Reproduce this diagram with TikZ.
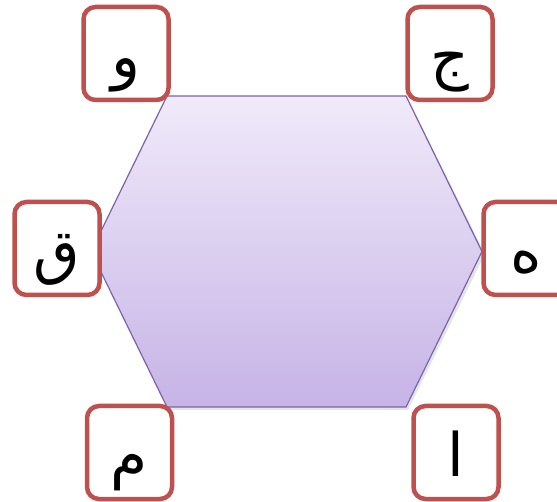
\documentclass[tikz,border=0pt]{standalone}
\usepackage{fontspec}
\newfontfamily\arabicfont[Script=Arabic]{DejaVu Sans}
\TeXXeTstate=1
\definecolor{hexTop}{HTML}{F0EAF9}
\definecolor{hexBot}{HTML}{C6B4E6}
\definecolor{hexLine}{HTML}{7D62A9}
\definecolor{boxLine}{HTML}{C0504D}
\tikzset{
  letterbox/.style={draw=boxLine, line width=4.5pt, fill=white, rounded corners=12pt,
    minimum width=85pt, minimum height=93pt, inner sep=0pt},
  letter/.style={anchor=base, inner sep=0pt, font=\arabicfont\fontsize{60}{64}\selectfont},
}
\begin{document}
\begin{tikzpicture}[x=1pt,y=-1pt]
\useasboundingbox (0,0) rectangle (557,502);
\fill[white] (0,0) rectangle (557,502);
% hexagon shadow
\fill[black, opacity=0.10] (169,99) -- (408,99) -- (485,254) -- (408,410) -- (169,410) -- (94,254) -- cycle;
% hexagon
\coordinate (h1) at (167,96);
\coordinate (h2) at (406,96);
\coordinate (h3) at (482,251.5);
\coordinate (h4) at (406,407);
\coordinate (h5) at (167,407);
\coordinate (h6) at (91,251.5);
\shade[top color=hexTop, bottom color=hexBot] (h1) -- (h2) -- (h3) -- (h4) -- (h5) -- (h6) -- cycle;
\draw[hexLine, line width=1.2pt, line join=miter] (h1) -- (h2) -- (h3) -- (h4) -- (h5) -- (h6) -- cycle;
% boxes
\node[letterbox] (b1) at (126,53.5) {};
\node[letterbox] (b2) at (450,53.5) {};
\node[letterbox] (b3) at (57,248.5) {};
\node[letterbox] (b4) at (526,248.5) {};
\node[letterbox] (b5) at (129.5,452.5) {};
\node[letterbox] (b6) at (456,452.5) {};
% letters
\node[letter] (t1) at ([yshift=-24pt]b1.center) {\beginR و\endR};
\node[letter] (t2) at ([yshift=-24pt]b2.center) {\beginR ج\endR};
\node[letter] (t3) at ([yshift=-24pt]b3.center) {\beginR ق\endR};
\node[letter] (t4) at ([yshift=-24pt]b4.center) {\beginR ه\endR};
\node[letter] (t5) at ([yshift=-24pt]b5.center) {\beginR م\endR};
\node[letter] (t6) at ([yshift=-24pt]b6.center) {\beginR ا\endR};
\end{tikzpicture}
\end{document}
